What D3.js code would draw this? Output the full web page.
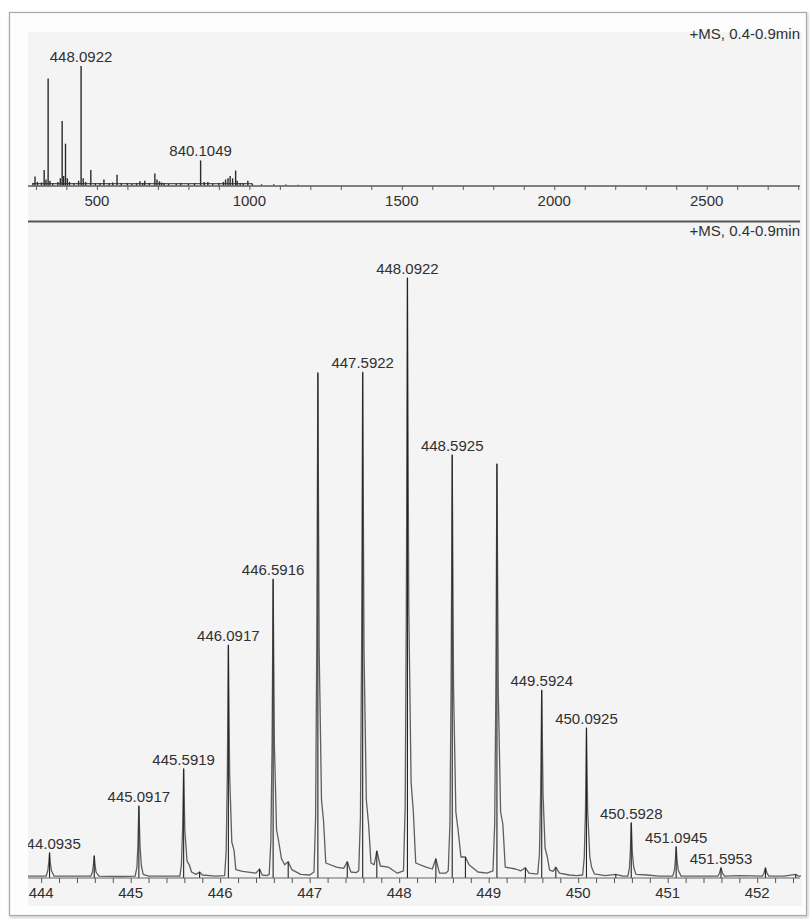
<!DOCTYPE html>
<html>
<head>
<meta charset="utf-8">
<script src="https://cdn.jsdelivr.net/npm/d3@7/dist/d3.min.js"></script>
<style>
  html, body { margin: 0; padding: 0; background: #fff; }
  svg { display: block; }
  text { font-family: "Liberation Sans", Arial, sans-serif; }
</style>
</head>
<body>
<svg id="chart" width="810" height="919"></svg>
<script>
// ---- data -------------------------------------------------------------
const scanTitle = "+MS, 0.4-0.9min";

// full-range spectrum: [m/z, relative intensity %]
const overviewTicks = [500, 1000, 1500, 2000, 2500];
const overviewPeaks = [
  [290, 2], [297, 7.5], [305, 3], [318, 2.5], [327, 13], [333, 5], [340, 89.5],
  [346, 4], [355, 2], [372, 3], [380, 6], [386, 54], [391, 8], [397, 35],
  [403, 6], [410, 3], [425, 2], [440, 4], [448.0922, 100], [455, 6], [463, 3],
  [480, 13], [495, 2], [510, 2], [523, 5], [540, 2], [552, 2.5], [566, 9],
  [580, 2], [600, 2], [615, 1.5], [630, 2], [641, 3.5], [650, 2], [657, 4],
  [672, 2], [690, 10], [697, 5], [705, 3.5], [712, 2.5], [720, 2], [735, 1.5],
  [760, 1.5], [775, 2], [800, 1.5], [820, 2], [840.1049, 21], [852, 3],
  [864, 3], [880, 1.5], [900, 2], [915, 3], [922, 5], [930, 6], [937, 8],
  [945, 6], [955, 12.5], [960, 4], [970, 2], [980, 2], [995, 4], [1010, 1.5],
  [1040, 1], [1080, 1], [1120, 0.8], [1160, 0.6]
];
const overviewLabels = [448.0922, 840.1049];

// isotope cluster: centroid peaks [m/z, relative intensity %]
const clusterTicks = [444, 445, 446, 447, 448, 449, 450, 451, 452];
const clusterPeaks = [
  [444.0935, 4.2], [444.593, 3.7], [445.0917, 12], [445.5919, 18.2],
  [445.77, 1.0], [446.0917, 38.8], [446.44, 1.5], [446.5916, 49.8],
  [446.76, 2.7], [447.0915, 84.2], [447.42, 2.7], [447.5922, 84.3],
  [447.75, 4.5], [448.0922, 100], [448.41, 3.2], [448.5925, 70.5],
  [448.74, 3.5], [449.092, 69], [449.41, 1.7], [449.5924, 31.3],
  [449.75, 1.8], [450.0925, 25], [450.42, 0.6], [450.5928, 9.2],
  [451.0945, 5.2], [451.5953, 1.7], [452.092, 1.7], [452.43, 0.6]
];
const clusterLabels = [
  444.0935, 445.0917, 445.5919, 446.0917, 446.5916, 447.5922, 448.0922,
  448.5925, 449.5924, 450.0925, 450.5928, 451.0945, 451.5953
];
// profile trace between the apexes (flanks, shoulders, baseline)
const clusterFlanks = [
  [443.85, 0.3],
  [444.055, 0.3], [444.075, 1.3], [444.085, 2.6], [444.102, 2.6], [444.115, 1.2], [444.145, 0.3],
  [444.3, 0.3],
  [444.555, 0.3], [444.575, 1.1], [444.585, 2.3], [444.601, 2.3], [444.613, 1.0], [444.645, 0.3],
  [444.9, 0.25],
  [445.05, 0.3], [445.07, 1.8], [445.081, 5.5], [445.104, 5.5], [445.12, 2], [445.14, 0.6], [445.2, 0.3],
  [445.55, 0.3], [445.567, 2.2], [445.58, 8], [445.605, 8], [445.63, 2.8], [445.655, 2.2],
  [445.68, 1.0], [445.73, 0.6], [445.8, 0.5], [445.95, 0.3],
  [446.05, 0.4], [446.067, 4.5], [446.08, 17], [446.106, 17], [446.13, 6], [446.155, 4.6],
  [446.175, 1.4], [446.25, 1.1], [446.4, 0.8], [446.47, 0.5], [446.52, 0.4],
  [446.548, 0.6], [446.566, 6], [446.58, 22], [446.606, 22], [446.63, 8], [446.655, 6],
  [446.685, 3.2], [446.72, 2.2], [446.8, 1.4], [446.9, 0.6], [447.0, 0.5],
  [447.048, 1], [447.066, 10], [447.079, 38], [447.106, 38], [447.132, 13], [447.155, 9.5],
  [447.18, 2.5], [447.3, 1.8], [447.38, 1.6], [447.46, 1.0], [447.52, 0.9],
  [447.548, 1.2], [447.567, 10], [447.58, 38], [447.607, 38], [447.633, 13], [447.658, 9],
  [447.685, 2.5], [447.72, 2.2], [447.79, 2.0], [447.88, 1.8], [447.98, 0.8],
  [448.048, 1.2], [448.067, 12], [448.08, 45], [448.107, 45], [448.133, 16], [448.158, 11],
  [448.185, 2.5], [448.3, 1.8], [448.37, 1.5], [448.45, 0.8], [448.52, 0.8],
  [448.548, 1.2], [448.567, 9], [448.58, 32], [448.607, 32], [448.633, 11], [448.658, 8],
  [448.69, 3.5], [448.78, 2.2], [448.88, 1.0], [448.98, 0.8],
  [449.048, 1.2], [449.067, 9], [449.08, 31], [449.107, 31], [449.133, 11], [449.158, 9],
  [449.185, 1.8], [449.3, 1.5], [449.36, 1.2], [449.45, 0.8], [449.52, 0.7],
  [449.548, 0.7], [449.567, 4], [449.58, 14], [449.607, 14], [449.63, 5], [449.655, 3.5],
  [449.68, 1.3], [449.72, 1.1], [449.79, 0.8], [449.9, 0.5], [449.98, 0.4],
  [450.05, 0.5], [450.068, 3.5], [450.081, 11], [450.106, 11], [450.13, 3.5], [450.15, 1.8],
  [450.18, 0.7], [450.3, 0.4], [450.5, 0.3],
  [450.555, 0.3], [450.572, 1.6], [450.582, 4.2], [450.605, 4.2], [450.62, 1.8], [450.645, 0.6],
  [450.77, 0.5], [450.9, 0.3],
  [451.057, 0.3], [451.075, 1.3], [451.085, 2.8], [451.105, 2.8], [451.118, 1.3], [451.15, 0.3],
  [451.3, 0.3],
  [451.56, 0.3], [451.578, 0.8], [451.612, 0.8], [451.635, 0.3], [451.8, 0.4],
  [452.057, 0.3], [452.075, 0.8], [452.109, 0.8], [452.13, 0.3], [452.3, 0.3],
  [452.46, 0.3], [452.5, 0.3]
];

// ---- layout -------------------------------------------------------------
const svg = d3.select("#chart");
const textColor = "#303030";
const fontSize = "15px";
const fmt = d3.format(".4f");

const defs = svg.append("defs");
const shadow = defs.append("filter").attr("id", "shadow")
  .attr("x", "-5%").attr("y", "-5%").attr("width", "110%").attr("height", "110%");
shadow.append("feDropShadow").attr("dx", 1).attr("dy", 1.5)
  .attr("stdDeviation", 1.5).attr("flood-color", "#000").attr("flood-opacity", 0.25);

// card and paper
svg.append("rect").attr("x", 9.5).attr("y", 12.5).attr("width", 797).attr("height", 903)
  .attr("fill", "#fdfdfd").attr("stroke", "#a8a8a8").attr("stroke-width", 1.2)
  .attr("filter", "url(#shadow)");
svg.append("rect").attr("x", 28).attr("y", 32).attr("width", 774).attr("height", 874)
  .attr("fill", "#f4f4f4");

defs.append("clipPath").attr("id", "plotClip")
  .append("rect").attr("x", 28).attr("y", 30).attr("width", 773).attr("height", 880);

// ---- overview panel ---------------------------------------------------------
const xTop = d3.scaleLinear().domain([274, 2806]).range([28, 800]);
const yTop = d3.scaleLinear().domain([0, 100]).range([185.5, 66]);

const overviewG = svg.append("g").attr("clip-path", "url(#plotClip)");

// noisy baseline trace through the low-level peaks
const topTrace = d3.line().x(d => xTop(d[0])).y(d => yTop(Math.min(d[1], 1.5)));
overviewG.append("path").datum(overviewPeaks.filter(d => d[0] <= 1010))
  .attr("d", topTrace).attr("fill", "none").attr("stroke", "#555").attr("stroke-width", 1.2);

overviewG.selectAll("line.opk").data(overviewPeaks).join("line").attr("class", "opk")
  .attr("x1", d => xTop(d[0])).attr("x2", d => xTop(d[0]))
  .attr("y1", yTop(0)).attr("y2", d => yTop(d[1]))
  .attr("stroke", "#2a2a2a").attr("stroke-width", 1.4);

const axTop = d3.axisBottom(xTop)
  .tickValues(d3.range(300, 2801, 100)).tickSize(4).tickFormat("");
const gAxTop = svg.append("g").attr("transform", `translate(0,${yTop(0) + 0.5})`).call(axTop);
gAxTop.select(".domain").attr("stroke", "#5a5a5a").attr("stroke-width", 1.3)
  .attr("d", `M28,0H800`);
gAxTop.selectAll(".tick line").attr("stroke", "#5a5a5a");

svg.selectAll("text.otick").data(overviewTicks).join("text").attr("class", "otick")
  .attr("x", d => xTop(d)).attr("y", 206).attr("text-anchor", "middle")
  .attr("font-size", fontSize).attr("fill", textColor).text(d => d);

svg.selectAll("text.olab").data(overviewLabels).join("text").attr("class", "olab")
  .attr("x", d => xTop(d))
  .attr("y", d => yTop(overviewPeaks.find(p => p[0] === d)[1]) - 4)
  .attr("text-anchor", "middle").attr("font-size", fontSize).attr("fill", textColor)
  .text(d => fmt(d));

svg.append("text").attr("x", 800).attr("y", 38.5).attr("text-anchor", "end")
  .attr("font-size", fontSize).attr("fill", textColor).text(scanTitle);

// separator between panels
svg.append("line").attr("x1", 28).attr("x2", 800).attr("y1", 221.5).attr("y2", 221.5)
  .attr("stroke", "#555").attr("stroke-width", 1.8);

svg.append("text").attr("x", 800).attr("y", 235.5).attr("text-anchor", "end")
  .attr("font-size", fontSize).attr("fill", textColor).text(scanTitle);

// ---- isotope cluster panel --------------------------------------------------
const xBot = d3.scaleLinear().domain([443.853, 452.478]).range([28, 800]);
const yBot = d3.scaleLinear().domain([0, 100]).range([878, 278]);

const clusterG = svg.append("g").attr("clip-path", "url(#plotClip)");

const axBot = d3.axisBottom(xBot)
  .tickValues(d3.range(443.8, 452.5, 0.2).filter(v => v >= 443.853))
  .tickSize(5).tickFormat("");
const gAxBot = svg.append("g").attr("transform", `translate(0,${yBot(0)})`).call(axBot);
gAxBot.select(".domain").attr("stroke", "#666").attr("stroke-width", 1.2)
  .attr("d", `M28,0H800`);
gAxBot.selectAll(".tick line").attr("stroke", "#555");

const profile = clusterFlanks.concat(clusterPeaks).sort((a, b) => a[0] - b[0]);
const line = d3.line().x(d => xBot(d[0])).y(d => yBot(d[1]));
clusterG.append("path").datum(profile).attr("d", line)
  .attr("fill", "none").attr("stroke", "#5e5e5e").attr("stroke-width", 1.3)
  .attr("stroke-linejoin", "round");

clusterG.selectAll("line.cpk").data(clusterPeaks).join("line").attr("class", "cpk")
  .attr("x1", d => xBot(d[0])).attr("x2", d => xBot(d[0]))
  .attr("y1", yBot(0)).attr("y2", d => yBot(d[1]))
  .attr("stroke", "#222").attr("stroke-width", 1.1);

clusterG.selectAll("text.clab").data(clusterLabels).join("text").attr("class", "clab")
  .attr("x", d => xBot(d))
  .attr("y", d => yBot(clusterPeaks.find(p => p[0] === d)[1]) - 4)
  .attr("text-anchor", "middle").attr("font-size", fontSize).attr("fill", textColor)
  .text(d => fmt(d));

svg.selectAll("text.ctick").data(clusterTicks).join("text").attr("class", "ctick")
  .attr("x", d => xBot(d)).attr("y", 897.5).attr("text-anchor", "middle")
  .attr("font-size", fontSize).attr("fill", textColor).text(d => d);
</script>
</body>
</html>
